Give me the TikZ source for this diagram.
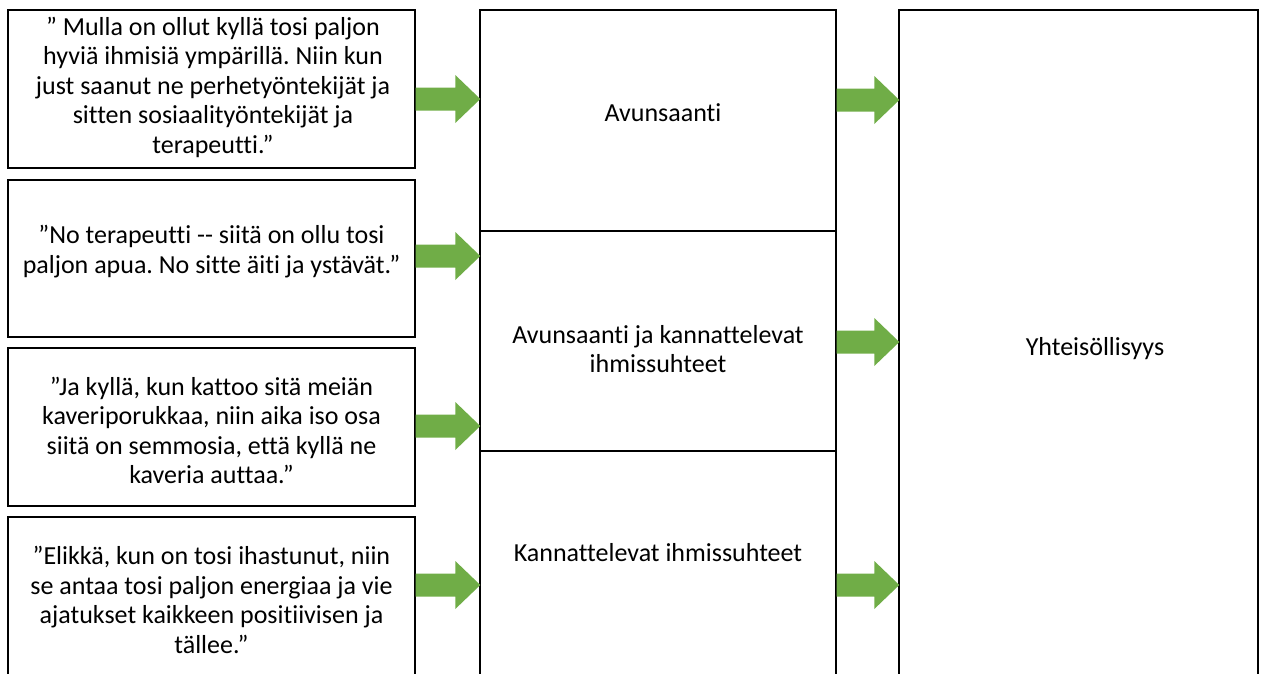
\documentclass[tikz,border=0pt]{standalone}
\usepackage{fontspec}
\setmainfont{Carlito}[Ligatures={NoCommon}]
\usetikzlibrary{calc}
\definecolor{arrowgreen}{HTML}{70AD47}
\tikzset{
  box/.style = {rectangle, draw=black, line width=1.4pt, inner sep=0pt},
  txt/.style = {align=center, font=\fontsize{26}{29.5}\selectfont},
  greenarrow/.style = {fill=arrowgreen}
}
% block arrow from the east side of #1 to the west side of #2 at height #3
\newcommand{\blockarrow}[3]{%
  \path [greenarrow] let \p1 = (#1.east), \p2 = (#2.west) in
    (\x1, #3-11.5) -- (\x2-24pt, #3-11.5) -- (\x2-24pt, #3-24) -- (\x2+1pt, #3)
    -- (\x2-24pt, #3+24) -- (\x2-24pt, #3+11.5) -- (\x1, #3+11.5) -- cycle;}

\begin{document}
\frenchspacing
\begin{tikzpicture}[x=1pt, y=-1pt]
    \useasboundingbox (0,0) rectangle (1265,673);
    \clip (0,0) rectangle (1265,673);
    % Place boxes
    \node [box, minimum width=407pt, minimum height=158pt] (q1) at (211.5,89) {};
    \node [box, minimum width=407pt, minimum height=157pt] (q2) at (211.5,258.5) {};
    \node [box, minimum width=407pt, minimum height=158pt] (q3) at (211.5,427) {};
    \node [box, minimum width=407pt, minimum height=180pt] (q4) at (211.5,607) {};
    \node [box, minimum width=356pt, minimum height=221pt] (mid1) at (658,120.5) {};
    \node [box, minimum width=356pt, minimum height=220pt] (mid2) at (658,341) {};
    \node [box, minimum width=356pt, minimum height=240pt] (mid3) at (658,571) {};
    \node [box, minimum width=359pt, minimum height=690pt] (yht) at (1078.5,355) {};
    % Place texts
    \node [txt] (t1) at (213,87) {” Mulla on ollut kyllä tosi paljon\\hyviä ihmisiä ympärillä. Niin kun\\just saanut ne perhetyöntekijät ja\\sitten sosiaalityöntekijät ja\\terapeutti.”};
    \node [txt] (t2) at (211.5,251.5) {”No terapeutti -{}- siitä on ollu tosi\\paljon apua. No sitte äiti ja ystävät.”};
    \node [txt] (t3) at (211.5,430.5) {”Ja kyllä, kun kattoo sitä meiän\\kaveriporukkaa, niin aika iso osa\\siitä on semmosia, että kyllä ne\\kaveria auttaa.”};
    \node [txt] (t4) at (211.5,600) {”Elikkä, kun on tosi ihastunut, niin\\se antaa tosi paljon energiaa ja vie\\ajatukset kaikkeen positiivisen ja\\tällee.”};
    \node [txt] (t5) at (663,113) {Avunsaanti};
    \node [txt] (t6) at (658,349) {Avunsaanti ja kannattelevat\\ihmissuhteet};
    \node [txt] (t7) at (658,553) {Kannattelevat ihmissuhteet};
    \node [txt] (t8) at (1095,349) {Yhteisöllisyys};
    % Draw arrows
    \blockarrow{q1}{mid1}{99}
    \blockarrow{q2}{mid2}{256}
    \blockarrow{q3}{mid3}{426}
    \blockarrow{q4}{mid3}{585}
    \blockarrow{mid1}{yht}{100}
    \blockarrow{mid2}{yht}{342}
    \blockarrow{mid3}{yht}{585}
\end{tikzpicture}
\end{document}
